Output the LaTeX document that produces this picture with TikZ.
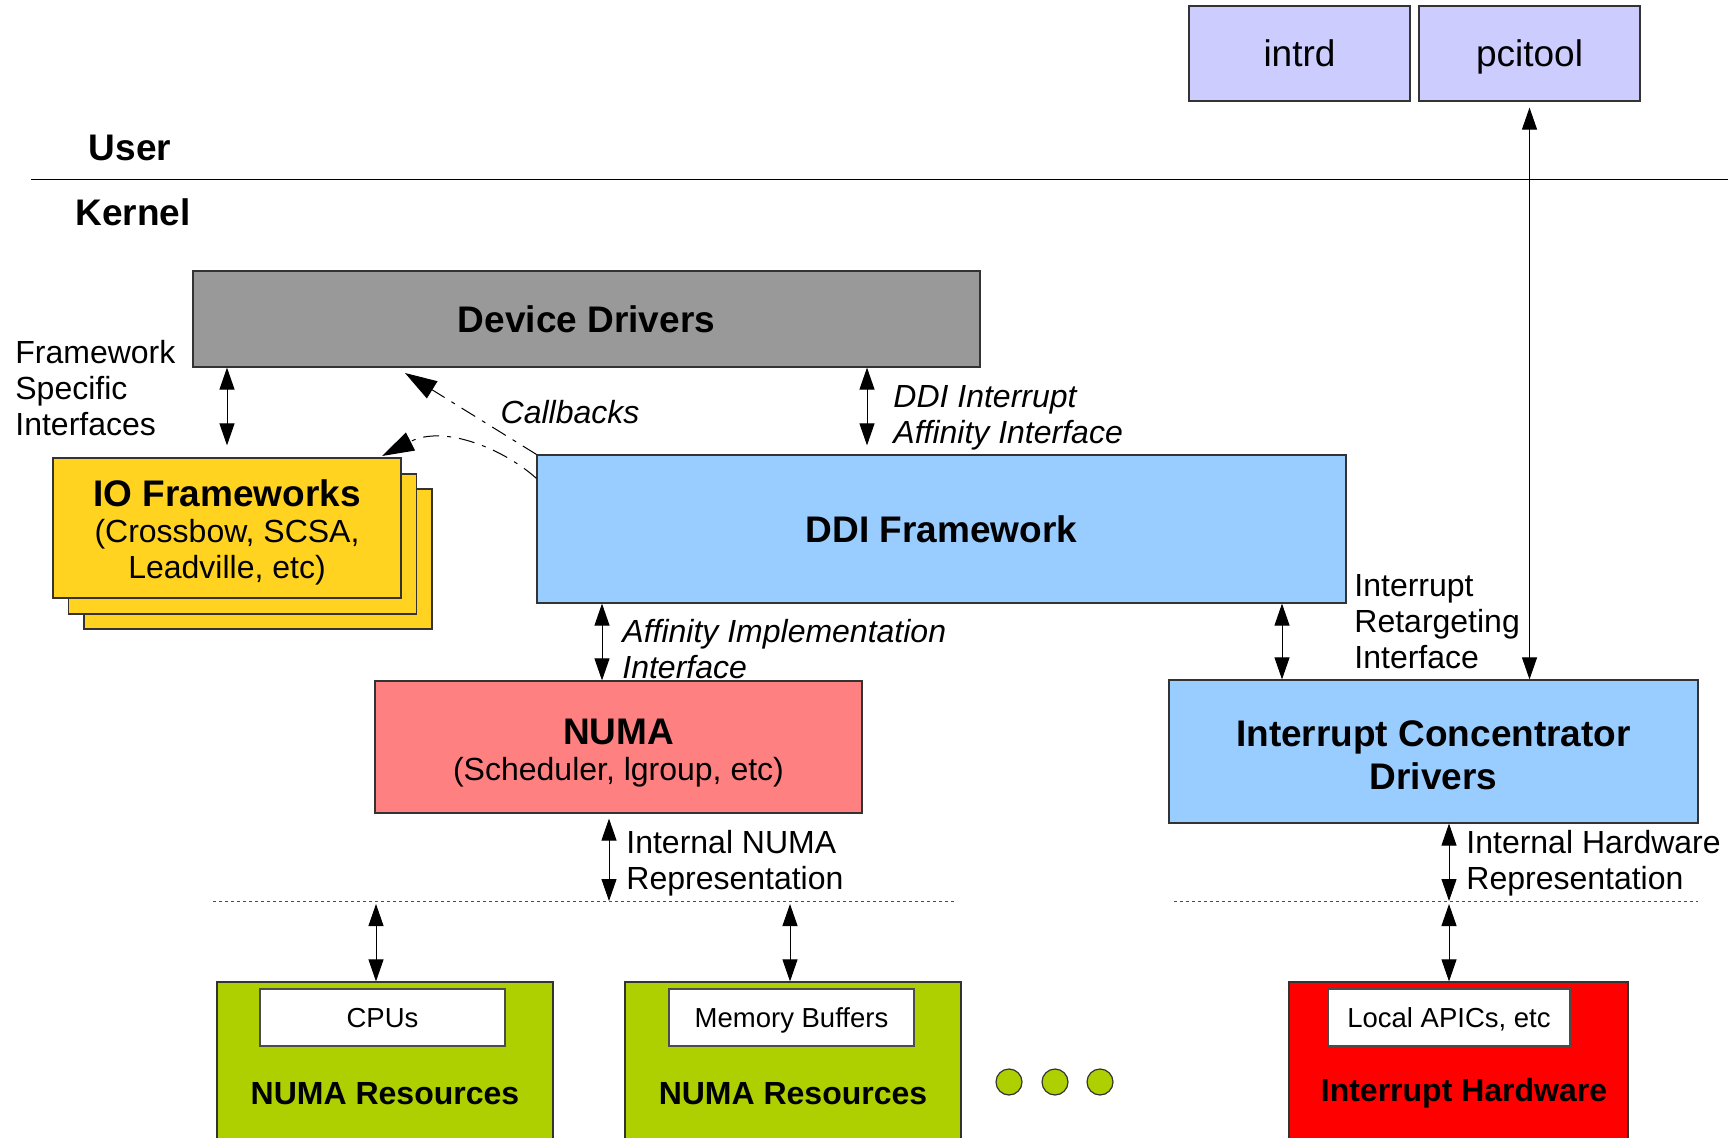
\documentclass[tikz,border=0pt]{standalone}
\usepackage{fontspec}
\setmainfont{Liberation Sans}
\usetikzlibrary{arrows.meta,positioning,calc}
\definecolor{kslavender}{HTML}{CCCCFF}
\definecolor{ksgray}{HTML}{999999}
\definecolor{ksyellow}{HTML}{FFD320}
\definecolor{ksblue}{HTML}{99CCFF}
\definecolor{kssalmon}{HTML}{FF8080}
\definecolor{ksgreen}{HTML}{AECF00}
\definecolor{ksred}{HTML}{FF0000}
\definecolor{ksedge}{HTML}{333333}

\begin{document}
\begin{tikzpicture}[x=0.5pt,y=-0.5pt,
  box/.style={draw=ksedge, line width=0.6pt, align=center, inner sep=0pt},
  bigfont/.style={font=\fontsize{18.5}{21.5}\selectfont\bfseries},
  midfont/.style={font=\fontsize{16}{18}\selectfont},
  tag/.style={font=\fontsize{16}{18}\selectfont, align=left, anchor=west, inner sep=0pt},
  itag/.style={tag, font=\fontsize{16}{18}\selectfont\itshape},
  inbox/.style={box, fill=white, draw=black!70, minimum height=28.5pt, text depth=0pt, font=\fontsize{13.75}{16}\selectfont},
  dbl/.style={{Triangle[length=11pt,width=7.5pt]}-{Triangle[length=11pt,width=7.5pt]}, line width=0.5pt},
  cb/.style={-{Triangle[length=16pt,width=10pt]}, line width=0.5pt, dash pattern=on 8pt off 4pt on 2pt off 4pt}]
  \useasboundingbox (0,0) rectangle (1728,1138);

  % User space tools
  \node[box, fill=kslavender, minimum width=110.5pt, minimum height=47.5pt, font=\fontsize{18.5}{21.5}\selectfont] (intrd) at (1299.5,53.5) {intrd};
  \node[box, fill=kslavender, minimum width=110.5pt, minimum height=47.5pt, text depth=0pt, font=\fontsize{18.5}{21.5}\selectfont] (pcitool) at (1529.5,53.5) {pcitool};

  % User / Kernel boundary
  \draw[line width=0.5pt] (31,180) -- (1728,180);
  \node[bigfont] (user) at (130,148) {User};
  \node[bigfont] (kernel) at (133,212) {Kernel};

  % Device Drivers
  \node[box, fill=ksgray, minimum width=393.5pt, minimum height=48pt, bigfont] (dd) at (586.5,319) {Device Drivers};

  % IO Frameworks (stacked)
  \node[box, fill=ksyellow, minimum width=174pt, minimum height=70pt] (iofwb) at (258,559) {};
  \node[box, fill=ksyellow, minimum width=174pt, minimum height=70pt] (iofwm) at (242.5,544) {};
  \node[box, fill=ksyellow, minimum width=174pt, minimum height=70pt, midfont] (iofw) at (227,528) {{\fontsize{18.5}{21.5}\selectfont\bfseries\rule{0pt}{18pt}IO Frameworks}\\(Crossbow, SCSA,\\Leadville, etc)};

  % DDI Framework
  \node[box, fill=ksblue, minimum width=404.5pt, minimum height=74pt, bigfont] (ddi) at (941.5,529) {DDI Framework};

  % NUMA
  \node[box, fill=kssalmon, minimum width=243.5pt, minimum height=66pt, midfont] (numa) at (618.5,747) {{\fontsize{18.5}{21.5}\selectfont\bfseries\rule{0pt}{18.5pt}NUMA}\\(Scheduler, lgroup, etc)};

  % Interrupt Concentrator Drivers
  \node[box, fill=ksblue, minimum width=264.5pt, minimum height=71.5pt, bigfont] (icd) at (1433.5,751.5) {\rule{0pt}{16.5pt}Interrupt Concentrator\\Drivers};

  % Resources
  \node[box, fill=ksgreen, minimum width=168pt, minimum height=84pt] (numresA) at (385,1066) {};
  \node[box, fill=ksgreen, minimum width=168pt, minimum height=84pt] (numresB) at (793,1066) {};
  \node[box, fill=ksred, minimum width=169.5pt, minimum height=84pt] (inthw) at (1458.5,1066) {};
  \node[inbox, minimum width=122.5pt] (cpus) at (382.5,1017.5) {CPUs};
  \node[inbox, minimum width=122.5pt] (membuf) at (791.5,1017.5) {Memory Buffers};
  \node[inbox, minimum width=121pt] (apics) at (1449,1017.5) {Local APICs, etc};
  \node[font=\fontsize{16}{18}\selectfont\bfseries] (numresAlbl) at (385,1094) {NUMA Resources};
  \node[font=\fontsize{16}{18}\selectfont\bfseries] (numresBlbl) at (793,1094) {NUMA Resources};
  \node[font=\fontsize{16}{18}\selectfont\bfseries] (inthwlbl) at (1464,1093) {Interrupt Hardware};
  \foreach \i/\x in {1/1009,2/1055,3/1100}
    \node[circle, draw=ksedge, line width=0.6pt, fill=ksgreen, minimum size=13pt, inner sep=0pt] (dot\i) at (\x,1082) {};

  % Separators
  \coordinate (lsepW) at (213,901);
  \coordinate (lsepE) at (957,901);
  \coordinate (rsepW) at (1174,901);
  \coordinate (rsepE) at (1698,901);
  \draw[black!70, line width=0.5pt, dash pattern=on 1.5pt off 1.5pt] (lsepW) -- (lsepE);
  \draw[black!70, line width=0.5pt, dash pattern=on 1.5pt off 1.5pt] (rsepW) -- (rsepE);

  % Arrow positions
  \coordinate (xdi) at (867,0);
  \coordinate (xai) at (602,0);
  \coordinate (xrt) at (1282,0);
  \coordinate (xnr) at (609,0);
  \coordinate (xhr) at (1449,0);
  \coordinate (xcpu) at (376,0);
  \coordinate (xmem) at (790,0);
  \coordinate (cbtipA) at (405,373);
  \coordinate (cbtipB) at (382,456);

  % Interfaces
  \draw[dbl, shorten >=6pt] (dd.south -| iofw.north) -- (iofw.north);
  \node[tag] (fsi) at (15,388) {Framework\\Specific\\Interfaces};

  \draw[dbl, shorten >=4.5pt] (dd.south -| xdi) -- (ddi.north -| xdi);
  \node[itag] (ddiaff) at (893,418) {DDI Interrupt\\Affinity Interface};

  \draw[cb] (ddi.north west) -- (cbtipA);
  \draw[cb] ([yshift=-12pt]ddi.north west) .. controls (505,450) and (445,424) .. (cbtipB);
  \node[font=\fontsize{16}{18}\selectfont\itshape] (cblbl) at (570,412) {Callbacks};

  \draw[dbl] (ddi.south -| xai) -- (numa.north -| xai);
  \node[itag] (affimpl) at (622,649) {Affinity Implementation\\Interface};

  \draw[dbl] (ddi.south -| xrt) -- (icd.north -| xrt);
  \node[tag] (retarget) at (1354,622) {Interrupt\\Retargeting\\Interface};

  \draw[dbl, shorten <=3pt] (pcitool.south) -- (icd.north -| pcitool.south);

  \draw[dbl, shorten <=2.5pt] (numa.south -| xnr) -- (xnr |- lsepW);
  \node[tag] (numarep) at (626,863) {Internal NUMA\\Representation};

  \draw[dbl] (icd.south -| xhr) -- (xhr |- rsepW);
  \node[tag] (hwrep) at (1466,863) {Internal Hardware\\Representation};

  \draw[dbl, shorten <=1.5pt] (xcpu |- lsepW) -- (numresA.north -| xcpu);
  \draw[dbl, shorten <=1.5pt] (xmem |- lsepW) -- (numresB.north -| xmem);
  \draw[dbl, shorten <=1.5pt] (xhr |- rsepW) -- (inthw.north -| xhr);
\end{tikzpicture}
\end{document}
